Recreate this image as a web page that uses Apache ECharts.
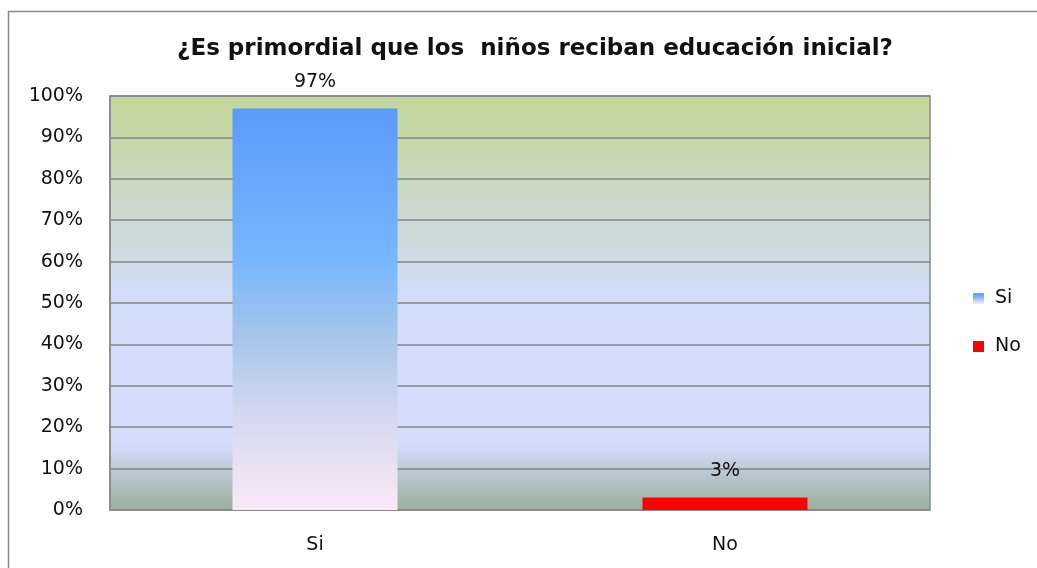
<!DOCTYPE html>
<html><head><meta charset="utf-8">
<script src="https://cdn.jsdelivr.net/npm/echarts@6/dist/echarts.min.js"></script>
<style>html,body{margin:0;padding:0;background:#fff}#c{width:1037px;height:568px}</style>
</head><body><div id="c"></div>
<script>
const categories = ['Si', 'No'];
const siValues = [97, '-'];
const noValues = ['-', 3];
const yTicks = [0, 10, 20, 30, 40, 50, 60, 70, 80, 90, 100];

const chart = echarts.init(document.getElementById('c'));
const G = echarts.graphic.LinearGradient;
const bgGrad = new G(0, 0, 0, 1, [
  {offset: 0, color: '#c4d79b'},
  {offset: 0.12, color: '#c6d8ab'},
  {offset: 0.3, color: '#cbd9d3'},
  {offset: 0.48, color: '#d1ddf6'},
  {offset: 0.6, color: '#d4defc'},
  {offset: 0.84, color: '#d4defc'},
  {offset: 0.9, color: '#bccad8'},
  {offset: 1, color: '#9bb09b'}
]);
const siGrad = new G(0, 0, 0, 1, [
  {offset: 0, color: '#5a9bfc'},
  {offset: 0.38, color: '#77b7fd'},
  {offset: 0.56, color: '#a5c4ea'},
  {offset: 0.75, color: '#d0d7ee'},
  {offset: 1, color: '#fbe8f8'}
]);
const font = '"DejaVu Sans", sans-serif';
chart.setOption({
  animation: false,
  backgroundColor: '#fff',
  title: {
    text: '¿Es primordial que los  niños reciban educación inicial?',
    left: 530, textAlign: 'center', top: 33,
    textStyle: {fontFamily: '"DejaVu Sans", sans-serif', fontWeight: 'bold', fontSize: 23, color: '#111'}
  },
  graphic: [{
    type: 'rect', shape: {x: 8.5, y: 11.5, width: 1040, height: 570},
    style: {fill: 'none', stroke: '#8a8a8a', lineWidth: 1.5}, silent: true
  }],
  legend: {
    orient: 'vertical', left: 968, top: 284, itemGap: 29,
    itemWidth: 11, itemHeight: 11, icon: 'rect',
    textStyle: {fontFamily: font, fontSize: 19, color: '#111', padding: [0, 0, 0, 6]},
    data: ['Si', 'No']
  },
  grid: {
    left: 110, right: 107, top: 96, bottom: 58,
    show: true, backgroundColor: bgGrad, borderColor: '#8a8a8a', borderWidth: 1.5
  },
  xAxis: {
    type: 'category', data: categories,
    axisLine: {lineStyle: {color: '#8a8a8a', width: 1.5}},
    axisTick: {show: false},
    axisLabel: {fontFamily: font, fontSize: 19, color: '#111', margin: 26}
  },
  yAxis: {
    type: 'value', min: 0, max: 100, interval: 10,
    axisLine: {show: true, lineStyle: {color: '#8a8a8a', width: 1.5}},
    axisTick: {show: false},
    splitLine: {lineStyle: {color: '#858585', width: 1.5}},
    axisLabel: {fontFamily: font, fontSize: 19, color: '#111', margin: 27,
      formatter: v => yTicks.includes(v) ? v + '%' : ''}
  },
  series: [
    {name: 'Si', type: 'bar', stack: 'a', barWidth: 165, data: siValues,
     itemStyle: {color: siGrad},
     label: {show: true, position: 'top', distance: 17, formatter: '{c}%',
       fontFamily: font, fontSize: 19, color: '#111'}},
    {name: 'No', type: 'bar', stack: 'a', barWidth: 165, data: noValues,
     itemStyle: {color: '#ff0000'},
     label: {show: true, position: 'top', distance: 17, formatter: '{c}%',
       fontFamily: font, fontSize: 19, color: '#111'}}
  ]
});
</script></body></html>
